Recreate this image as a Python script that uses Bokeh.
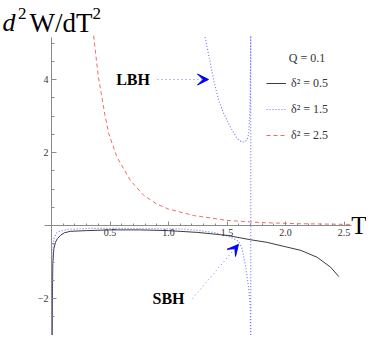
from bokeh.plotting import figure
from bokeh.models import FixedTicker, Legend, LegendItem, Arrow, VeeHead, Range1d
from bokeh.core.properties import value
from bokeh.embed import file_html
from bokeh.resources import INLINE

# delta^2 = 0.5 (black solid)
t_05 = [0.006, 0.008, 0.011, 0.02, 0.034, 0.05, 0.077, 0.11, 0.16, 0.3, 0.5, 0.75, 1.0,
        1.25, 1.5, 1.7, 1.84, 2.01, 2.13, 2.27, 2.385, 2.456]
w_05 = [-3.4, -2.0, -1.05, -0.64, -0.46, -0.36, -0.27, -0.2, -0.16, -0.14, -0.12, -0.12, -0.14,
        -0.19, -0.27, -0.39, -0.46, -0.59, -0.68, -0.87, -1.14, -1.40]

# delta^2 = 1.5 (blue dotted): SBH branch, jump at T_max, LBH branch
t_15 = [0.004, 0.007, 0.012, 0.02, 0.04, 0.062, 0.134, 0.3, 0.6, 1.0, 1.1, 1.27, 1.4, 1.53,
        1.57, 1.60, 1.63, 1.658, 1.686, 1.70, 1.703,
        1.703, 1.697, 1.686, 1.67, 1.63, 1.587, 1.53, 1.473, 1.43, 1.387, 1.359, 1.316, 1.31]
w_15 = [-3.4, -1.5, -0.7, -0.37, -0.22, -0.16, -0.11, -0.08, -0.08, -0.09, -0.09, -0.14, -0.2, -0.32,
        -0.38, -0.44, -0.64, -1.1, -1.73, -2.3, -3.4,
        5.2, 3.2, 2.51, 2.33, 2.28, 2.38, 2.69, 3.06, 3.42, 3.97, 4.43, 5.11, 5.2]

# delta^2 = 2.5 (red dashed)
t_25 = [0.36, 0.40, 0.46, 0.49, 0.56, 0.675, 0.79, 0.9, 1.0, 1.22, 1.5, 1.79, 2.1, 2.55]
w_25 = [5.2, 4.08, 2.97, 2.51, 1.87, 1.23, 0.82, 0.59, 0.45, 0.27, 0.14, 0.08, 0.05, 0.03]

x_major = [0.5, 1.0, 1.5, 2.0, 2.5]
x_labels = ["0.5", "1.0", "1.5", "2.0", "2.5"]
x_minor = [round(0.1 * i, 2) for i in range(1, 26)]
y_major = [-2, 2, 4]
y_labels = ["\u22122", "2", "4"]
y_minor = [-3.0, -2.5, -1.5, -1.0, -0.5, 0.5, 1.0, 1.5, 2.5, 3.0, 3.5, 4.5, 5.0]

legend_labels = ["\u03b4\u00b2 = 0.5", "\u03b4\u00b2 = 1.5", "\u03b4\u00b2 = 2.5"]
legend_title = "Q = 0.1"

# annotation anchors (data coords)
lbh_text = (0.697, 4.0)
lbh_arrow = (0.906, 4.0, 1.342, 4.0)
sbh_text = (1.0, -1.99)
sbh_arrow = (1.205, -2.0, 1.598, -0.52)

SERIF = "Liberation Serif"
W, H = 366, 335
X0, Y0, SX, SY = 51.0, 225.0, 117.0, 36.5   # pixel position of origin and pixels per unit


def dx(px):
    return (px - X0) / SX


def dy(py):
    return (Y0 - py) / SY


p = figure(width=W, height=H, output_backend="svg", toolbar_location=None,
           x_range=Range1d(dx(0), dx(W)), y_range=Range1d(dy(H), dy(0)),
           min_border=0, outline_line_color=None)
p.min_border_left = 0
p.min_border_right = 0
p.min_border_top = 0
p.min_border_bottom = 0
p.grid.visible = False

for ax in (p.xaxis, p.yaxis):
    ax.fixed_location = 0
    ax.axis_line_color = "#8a8a8a"
    ax.major_tick_line_color = "#8a8a8a"
    ax.minor_tick_line_color = "#8a8a8a"
    ax.major_tick_out = 0
    ax.minor_tick_out = 0
    ax.major_label_text_font = SERIF
    ax.major_label_text_font_size = "10px"
    ax.major_label_text_color = "#333333"

p.xaxis.ticker = FixedTicker(ticks=x_major, minor_ticks=x_minor)
p.xaxis.major_label_overrides = dict(zip(x_major, x_labels))
p.xaxis.bounds = (-0.06, 2.56)
p.xaxis.major_tick_in = 4
p.xaxis.minor_tick_in = 2
p.xaxis.major_label_standoff = 3

p.yaxis.ticker = FixedTicker(ticks=y_major, minor_ticks=y_minor)
p.yaxis.major_label_overrides = dict(zip(y_major, y_labels))
p.yaxis.bounds = (-3.3, 5.15)
p.yaxis.major_tick_in = 5
p.yaxis.minor_tick_in = 3
p.yaxis.major_label_standoff = 3

r1 = p.line(t_05, w_05, line_color="#3c3c3c", line_width=1)
r2 = p.line(t_15, w_15, line_color="#7777ff", line_width=1.2, line_dash="1 2")
r3 = p.line(t_25, w_25, line_color="#f26b6b", line_width=1, line_dash="4 3")

# y-axis label d^2W/dT^2 built from pieces: (text, left px, baseline px, font size, style)
ylabel_parts = [("d", 2, 22, "26px", "italic"),
                ("2", 17.5, 13, "17px", "normal"),
                ("W/dT", 29, 22, "27px", "normal"),
                ("2", 92, 13, "17px", "normal")]
for txt, px, py, fs, st in ylabel_parts:
    p.text(x=[dx(px)], y=[dy(py)], text=[txt], text_font=value(SERIF), text_font_style=st,
           text_font_size=fs, text_baseline="alphabetic", text_align="left", text_color="black")

# x-axis label T
p.text(x=[dx(358.5)], y=[0], text=["T"], text_font=value(SERIF), text_font_size="25px",
       text_baseline="middle", text_align="center", text_color="black")

# LBH / SBH labels and arrows
p.text(x=[lbh_text[0], sbh_text[0]], y=[lbh_text[1], sbh_text[1]], text=["LBH", "SBH"],
       text_font=value(SERIF), text_font_style="bold", text_font_size="16px",
       text_baseline="middle", text_align="center", text_color="black")
for (xs, ys, xe, ye) in (lbh_arrow, sbh_arrow):
    p.add_layout(Arrow(end=VeeHead(size=11, fill_color="#0000ff", line_color="#0000ff", line_width=1),
                       x_start=xs, y_start=ys, x_end=xe, y_end=ye,
                       line_color="#7777ff", line_dash="1 3", line_width=1))

# legend
p.text(x=[dx(306.5)], y=[dy(57)], text=[legend_title], text_font=value(SERIF), text_font_size="12px",
       text_baseline="middle", text_align="center", text_color="#333333")
legend = Legend(items=[LegendItem(label=legend_labels[0], renderers=[r1]),
                       LegendItem(label=legend_labels[1], renderers=[r2]),
                       LegendItem(label=legend_labels[2], renderers=[r3])],
                location=(266, H - 145), padding=0, margin=0, spacing=6,
                glyph_width=20, glyph_height=20, label_height=20, label_standoff=5,
                label_text_font=SERIF, label_text_font_size="12px", label_text_color="#333333",
                border_line_color=None, background_fill_alpha=0)
p.add_layout(legend)

open("out.html", "w").write(file_html(p, INLINE))
